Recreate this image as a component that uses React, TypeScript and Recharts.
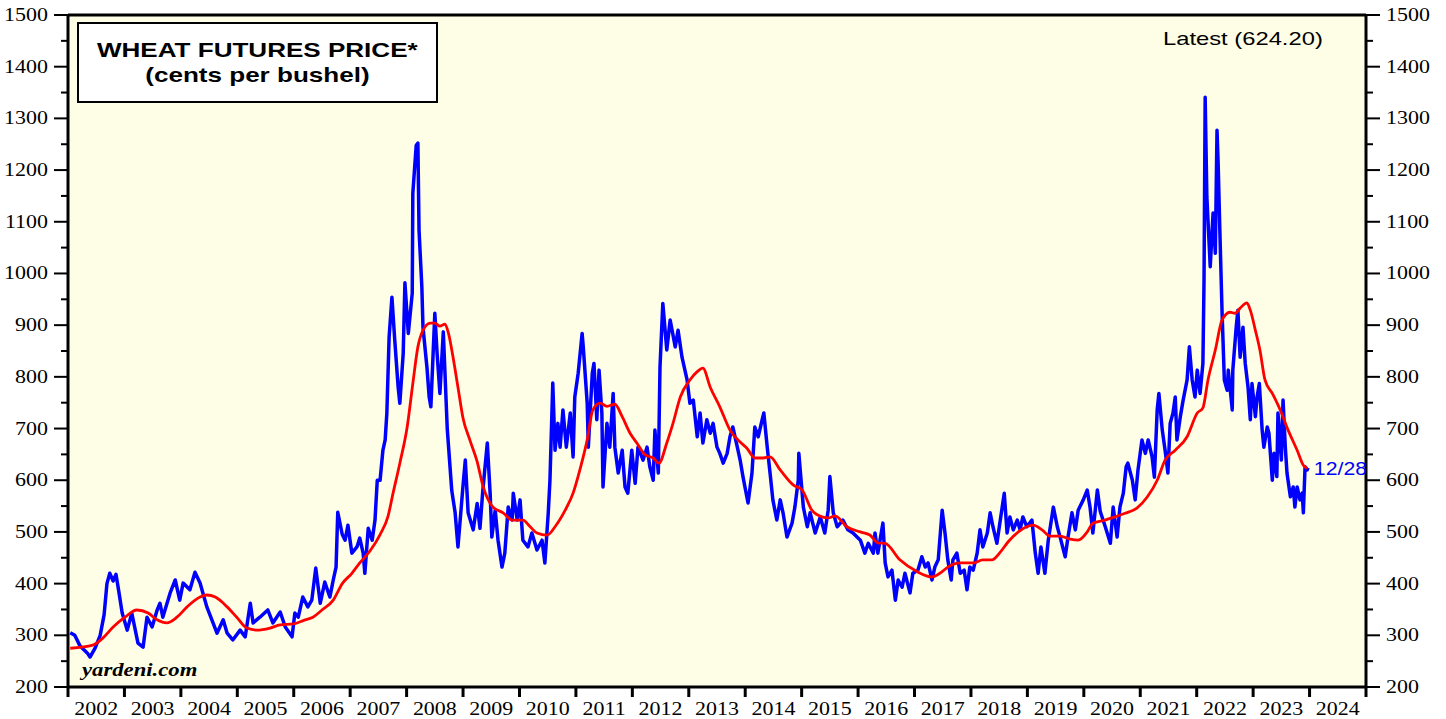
import React from "react";
import {
  ComposedChart,
  Line,
  XAxis,
  YAxis,
  CartesianGrid,
  ReferenceLine,
  ReferenceDot,
} from "recharts";

// weekly-ish futures price, cents per bushel [decimal year, value]
const PRICE: [number, number][] = [
  [2002.04, 305], [2002.12, 300], [2002.21, 280], [2002.34, 266], [2002.39, 258], [2002.48, 275],
  [2002.57, 300], [2002.64, 340], [2002.69, 400], [2002.74, 420], [2002.8, 405], [2002.85, 418],
  [2002.9, 385], [2002.96, 343], [2003.05, 310], [2003.13, 343], [2003.24, 285], [2003.33, 277],
  [2003.4, 335], [2003.49, 316], [2003.58, 349], [2003.63, 362], [2003.68, 335], [2003.81, 382],
  [2003.9, 407], [2003.98, 368], [2004.04, 401], [2004.16, 388], [2004.25, 422], [2004.34, 401],
  [2004.39, 382], [2004.46, 355], [2004.57, 324], [2004.64, 304], [2004.75, 330], [2004.82, 304],
  [2004.92, 291], [2005.05, 310], [2005.14, 297], [2005.23, 362], [2005.28, 324], [2005.4, 335],
  [2005.54, 349], [2005.63, 324], [2005.76, 345], [2005.85, 316], [2005.97, 297], [2006.02, 343],
  [2006.08, 335], [2006.16, 374], [2006.25, 355], [2006.32, 368], [2006.39, 430], [2006.47, 362],
  [2006.55, 403], [2006.64, 374], [2006.7, 407], [2006.75, 432], [2006.78, 538], [2006.86, 495],
  [2006.91, 484], [2006.96, 513], [2007.03, 459], [2007.12, 471], [2007.17, 488], [2007.23, 459],
  [2007.26, 420], [2007.32, 507], [2007.39, 484], [2007.44, 523], [2007.48, 600], [2007.53, 600],
  [2007.58, 658], [2007.62, 678], [2007.65, 730], [2007.69, 877], [2007.74, 954], [2007.79, 871],
  [2007.85, 780], [2007.88, 749], [2007.94, 846], [2007.97, 982], [2008.03, 884], [2008.1, 962],
  [2008.11, 1155], [2008.17, 1248], [2008.2, 1252], [2008.22, 1084], [2008.27, 974], [2008.29, 896],
  [2008.36, 819], [2008.4, 761], [2008.43, 742], [2008.47, 846], [2008.5, 923], [2008.54, 846],
  [2008.59, 768], [2008.65, 887], [2008.72, 700], [2008.8, 580], [2008.86, 537], [2008.91, 471],
  [2009.0, 590], [2009.04, 639], [2009.09, 537], [2009.18, 504], [2009.25, 555], [2009.3, 507],
  [2009.35, 580], [2009.43, 672], [2009.48, 575], [2009.51, 490], [2009.57, 542], [2009.62, 484],
  [2009.69, 432], [2009.74, 459], [2009.8, 548], [2009.87, 523], [2009.89, 575], [2009.96, 523],
  [2010.01, 562], [2010.06, 484], [2010.15, 471], [2010.22, 498], [2010.31, 465], [2010.4, 484],
  [2010.45, 440], [2010.51, 537], [2010.54, 600], [2010.59, 788], [2010.63, 658], [2010.68, 710],
  [2010.72, 664], [2010.77, 736], [2010.83, 664], [2010.9, 730], [2010.95, 645], [2010.98, 761],
  [2011.04, 807], [2011.11, 884], [2011.13, 858], [2011.2, 749], [2011.22, 664], [2011.29, 807],
  [2011.32, 826], [2011.37, 717], [2011.41, 813], [2011.46, 730], [2011.48, 587], [2011.55, 710],
  [2011.6, 664], [2011.66, 768], [2011.69, 664], [2011.75, 614], [2011.82, 658], [2011.87, 587],
  [2011.92, 575], [2011.99, 658], [2012.05, 594], [2012.1, 664], [2012.19, 639], [2012.26, 664],
  [2012.31, 626], [2012.37, 600], [2012.4, 697], [2012.46, 614], [2012.49, 819], [2012.54, 942],
  [2012.61, 852], [2012.67, 910], [2012.76, 858], [2012.81, 890], [2012.88, 838], [2012.97, 794],
  [2013.02, 749], [2013.08, 755], [2013.15, 684], [2013.2, 730], [2013.25, 672], [2013.32, 717],
  [2013.38, 691], [2013.43, 710], [2013.5, 664], [2013.55, 652], [2013.61, 633], [2013.68, 652],
  [2013.73, 684], [2013.78, 703], [2013.86, 664], [2013.91, 639], [2013.96, 607], [2014.05, 556],
  [2014.12, 614], [2014.17, 703], [2014.23, 684], [2014.3, 717], [2014.33, 730], [2014.39, 664],
  [2014.44, 614], [2014.49, 562], [2014.56, 523], [2014.62, 562], [2014.67, 537], [2014.74, 490],
  [2014.83, 517], [2014.88, 548], [2014.94, 600], [2014.95, 652], [2015.03, 548], [2015.1, 510],
  [2015.15, 537], [2015.24, 498], [2015.33, 529], [2015.41, 498], [2015.47, 542], [2015.5, 607],
  [2015.56, 537], [2015.63, 510], [2015.73, 523], [2015.82, 504], [2015.91, 498], [2016.04, 484],
  [2016.12, 459], [2016.18, 478], [2016.27, 459], [2016.3, 498], [2016.35, 459], [2016.44, 517],
  [2016.48, 440], [2016.53, 413], [2016.6, 426], [2016.66, 368], [2016.71, 407], [2016.78, 393],
  [2016.83, 420], [2016.92, 382], [2016.97, 420], [2017.06, 426], [2017.13, 452], [2017.19, 432],
  [2017.24, 440], [2017.31, 407], [2017.36, 432], [2017.42, 446], [2017.49, 542], [2017.54, 498],
  [2017.59, 446], [2017.65, 407], [2017.68, 446], [2017.75, 459], [2017.81, 420], [2017.88, 426],
  [2017.93, 388], [2017.98, 432], [2018.04, 426], [2018.11, 459], [2018.16, 504], [2018.21, 471],
  [2018.29, 498], [2018.34, 537], [2018.39, 510], [2018.46, 478], [2018.52, 523], [2018.59, 575],
  [2018.64, 498], [2018.69, 529], [2018.75, 504], [2018.82, 523], [2018.87, 504], [2018.92, 529],
  [2018.99, 510], [2019.08, 523], [2019.14, 459], [2019.19, 420], [2019.24, 471], [2019.31, 420],
  [2019.37, 484], [2019.46, 548], [2019.53, 510], [2019.58, 490], [2019.67, 452], [2019.72, 490],
  [2019.79, 537], [2019.85, 504], [2019.9, 542], [2019.99, 562], [2020.06, 581], [2020.11, 548],
  [2020.16, 498], [2020.24, 581], [2020.29, 540], [2020.38, 510], [2020.47, 478], [2020.52, 548],
  [2020.59, 490], [2020.64, 548], [2020.7, 575], [2020.75, 626], [2020.78, 633], [2020.86, 600],
  [2020.91, 562], [2020.96, 620], [2021.03, 678], [2021.09, 652], [2021.14, 678], [2021.21, 645],
  [2021.25, 606], [2021.3, 736], [2021.33, 768], [2021.39, 697], [2021.44, 658], [2021.49, 614],
  [2021.53, 710], [2021.58, 730], [2021.62, 761], [2021.65, 678], [2021.71, 723], [2021.76, 755],
  [2021.83, 794], [2021.87, 858], [2021.92, 794], [2021.97, 761], [2022.01, 813], [2022.06, 768],
  [2022.11, 826], [2022.13, 987], [2022.15, 1341], [2022.18, 1148], [2022.24, 1013], [2022.29, 1117],
  [2022.33, 1039], [2022.36, 1277], [2022.38, 1213], [2022.41, 1084], [2022.45, 923], [2022.49, 794],
  [2022.54, 774], [2022.56, 813], [2022.63, 736], [2022.64, 813], [2022.7, 896], [2022.73, 929],
  [2022.77, 838], [2022.82, 896], [2022.86, 826], [2022.91, 780], [2022.95, 717], [2022.98, 787],
  [2023.04, 723], [2023.07, 761], [2023.11, 787], [2023.16, 697], [2023.19, 664], [2023.25, 703],
  [2023.28, 691], [2023.34, 600], [2023.37, 652], [2023.42, 607], [2023.44, 730], [2023.5, 639],
  [2023.53, 755], [2023.57, 664], [2023.6, 614], [2023.66, 568], [2023.71, 587], [2023.74, 548],
  [2023.78, 587], [2023.83, 562], [2023.87, 575], [2023.89, 537], [2023.92, 626], [2023.96, 620],
  [2023.97, 624.2],
];

// 52-week moving average (red)
const AVERAGE: [number, number][] = [
  [2002.04, 275], [2002.44, 281], [2002.62, 295], [2002.8, 316], [2003.01, 335], [2003.22, 349],
  [2003.42, 343], [2003.58, 330], [2003.75, 324], [2003.93, 335], [2004.11, 355], [2004.34, 374],
  [2004.46, 378], [2004.61, 374], [2004.82, 355], [2004.99, 335], [2005.17, 314], [2005.35, 310],
  [2005.58, 314], [2005.76, 320], [2005.99, 322], [2006.2, 330], [2006.34, 335], [2006.5, 349],
  [2006.7, 368], [2006.86, 400], [2007.03, 420], [2007.17, 440], [2007.35, 463], [2007.53, 495],
  [2007.67, 530], [2007.76, 575], [2007.88, 633], [2008.01, 703], [2008.11, 787], [2008.2, 858],
  [2008.29, 890], [2008.42, 904], [2008.5, 904], [2008.59, 898], [2008.68, 902], [2008.74, 885],
  [2008.82, 840], [2008.91, 780], [2009.0, 720], [2009.12, 678], [2009.25, 636], [2009.35, 590],
  [2009.53, 548], [2009.71, 537], [2009.87, 523], [2010.06, 523], [2010.19, 510], [2010.31, 498],
  [2010.49, 494], [2010.63, 510], [2010.81, 542], [2010.95, 575], [2011.07, 620], [2011.2, 678],
  [2011.3, 736], [2011.43, 749], [2011.55, 743], [2011.69, 747], [2011.82, 723], [2011.96, 691],
  [2012.08, 672], [2012.23, 649], [2012.37, 643], [2012.47, 633], [2012.61, 672], [2012.72, 710],
  [2012.85, 761], [2013.02, 794], [2013.15, 810], [2013.25, 817], [2013.38, 780], [2013.55, 742],
  [2013.73, 697], [2013.91, 674], [2014.03, 662], [2014.17, 643], [2014.32, 643], [2014.44, 645],
  [2014.62, 620], [2014.85, 591], [2015.01, 581], [2015.18, 542], [2015.36, 529], [2015.47, 527],
  [2015.59, 531], [2015.8, 510], [2016.04, 500], [2016.21, 494], [2016.35, 479], [2016.48, 478],
  [2016.74, 446], [2017.05, 423], [2017.31, 413], [2017.45, 420], [2017.59, 432], [2017.81, 440],
  [2018.04, 440], [2018.21, 446], [2018.37, 446], [2018.52, 461], [2018.66, 481], [2018.84, 500],
  [2019.1, 513], [2019.26, 504], [2019.4, 492], [2019.58, 492], [2019.76, 486], [2019.9, 484],
  [2020.06, 500], [2020.16, 517], [2020.38, 523], [2020.55, 529], [2020.73, 536], [2020.94, 546],
  [2021.12, 567], [2021.3, 600], [2021.44, 639], [2021.62, 658], [2021.83, 684], [2022.01, 730],
  [2022.11, 740], [2022.2, 794], [2022.33, 852], [2022.45, 910], [2022.59, 925], [2022.68, 923],
  [2022.77, 933], [2022.89, 943], [2022.95, 929], [2023.04, 890], [2023.12, 852], [2023.21, 794],
  [2023.34, 768], [2023.48, 736], [2023.62, 697], [2023.78, 658], [2023.89, 629], [2023.96, 623],
];

const YEARS = [
  2002, 2003, 2004, 2005, 2006, 2007, 2008, 2009, 2010, 2011, 2012, 2013,
  2014, 2015, 2016, 2017, 2018, 2019, 2020, 2021, 2022, 2023, 2024, 2025,
];
const Y_TICKS = [
  200, 250, 300, 350, 400, 450, 500, 550, 600, 650, 700, 750, 800, 850, 900, 950,
  1000, 1050, 1100, 1150, 1200, 1250, 1300, 1350, 1400, 1450, 1500,
];
const LAST_DATE = "12/28";
const LATEST = 624.2;

const W = 1446;
const H = 719;
const PLOT_W = 1298;
const YEAR_PX = PLOT_W / (YEARS.length - 1);
const SERIF = "'Liberation Serif', 'Times New Roman', serif";
const SANS = "'Liberation Sans', Arial, sans-serif";
const STRETCH = 1.22;

const priceData = PRICE.map(([t, v]) => ({ t, v }));
const avgData = AVERAGE.map(([t, v]) => ({ t, v }));

function LeftTick({ x, y, payload }: any) {
  const major = payload.value % 100 === 0;
  return (
    <g>
      <line x1={x - (major ? 14 : 7)} x2={x} y1={y} y2={y} stroke="#000" strokeWidth={2} />
      {major && (
        <text
          transform={`translate(${x - 20},${y + 6}) scale(${STRETCH},1)`}
          textAnchor="end"
          fontFamily={SERIF}
          fontSize={18}
          fill="#000"
        >
          {payload.value}
        </text>
      )}
    </g>
  );
}

function RightTick({ x, y, payload }: any) {
  const major = payload.value % 100 === 0;
  return (
    <g>
      <line x1={x} x2={x + (major ? 14 : 7)} y1={y} y2={y} stroke="#000" strokeWidth={2} />
      {major && (
        <text
          transform={`translate(${x + 20},${y + 6}) scale(${STRETCH},1)`}
          textAnchor="start"
          fontFamily={SERIF}
          fontSize={18}
          fill="#000"
        >
          {payload.value}
        </text>
      )}
    </g>
  );
}

function YearTick({ x, y, payload }: any) {
  const last = payload.value >= YEARS[YEARS.length - 1];
  return (
    <g>
      <line x1={x} x2={x} y1={y} y2={y + 10} stroke="#000" strokeWidth={3} />
      {!last && (
        <text
          transform={`translate(${x + YEAR_PX / 2},${y + 28}) scale(${STRETCH},1)`}
          textAnchor="middle"
          fontFamily={SERIF}
          fontSize={18}
          fill="#000"
        >
          {payload.value}
        </text>
      )}
    </g>
  );
}

function DateLabel({ viewBox }: any) {
  if (!viewBox) return null;
  return (
    <text
      transform={`translate(${viewBox.x + 6},${viewBox.y + 7}) scale(1.18,1)`}
      fontFamily={SANS}
      fontSize={18}
      fill="#0000ff"
    >
      {LAST_DATE}
    </text>
  );
}

export default function App() {
  return (
    <div style={{ position: "absolute", left: 0, top: 0, width: W, height: H, background: "#fff" }}>
      <ComposedChart
        width={W}
        height={H}
        margin={{ top: 15, right: 0, bottom: 0, left: 8 }}
      >
        <CartesianGrid horizontal={false} vertical={false} fill="#fefee6" />
        <XAxis
          dataKey="t"
          type="number"
          domain={[YEARS[0], YEARS[YEARS.length - 1]]}
          ticks={YEARS}
          interval={0}
          height={32}
          tickLine={false}
          tickSize={0}
          tickMargin={0}
          tick={<YearTick />}
          axisLine={{ stroke: "#000", strokeWidth: 3 }}
          allowDataOverflow
        />
        <YAxis
          yAxisId="left"
          orientation="left"
          domain={[200, 1500]}
          ticks={Y_TICKS}
          interval={0}
          width={60}
          tickLine={false}
          tickSize={0}
          tickMargin={0}
          tick={<LeftTick />}
          axisLine={{ stroke: "#000", strokeWidth: 3 }}
          allowDataOverflow
        />
        <YAxis
          yAxisId="right"
          orientation="right"
          domain={[200, 1500]}
          ticks={Y_TICKS}
          interval={0}
          width={80}
          tickLine={false}
          tickSize={0}
          tickMargin={0}
          tick={<RightTick />}
          axisLine={{ stroke: "#000", strokeWidth: 3 }}
          allowDataOverflow
        />
        <ReferenceLine yAxisId="left" y={1500} stroke="#000" strokeWidth={3} />
        <Line
          yAxisId="left"
          data={priceData}
          dataKey="v"
          type="linear"
          stroke="#0000ff"
          strokeWidth={3.5}
          strokeLinejoin="round"
          dot={false}
          isAnimationActive={false}
        />
        <Line
          yAxisId="left"
          data={avgData}
          dataKey="v"
          type="monotone"
          stroke="#ff0000"
          strokeWidth={2.8}
          dot={false}
          isAnimationActive={false}
        />
        <ReferenceDot
          yAxisId="left"
          x={PRICE[PRICE.length - 1][0]}
          y={LATEST}
          r={0}
          stroke="none"
          label={<DateLabel />}
        />
      </ComposedChart>

      <div
        style={{
          position: "absolute",
          left: 77,
          top: 22,
          width: 361,
          height: 81,
          boxSizing: "border-box",
          border: "2px solid #000",
          background: "#fff",
        }}
      />
      {["WHEAT FUTURES PRICE*", "(cents per bushel)"].map((line, i) => (
        <div
          key={line}
          style={{
            position: "absolute",
            left: 77,
            width: 361,
            top: i === 0 ? 39 : 64,
            textAlign: "center",
            fontFamily: SANS,
            fontWeight: "bold",
            fontSize: 21,
            lineHeight: "21px",
            whiteSpace: "nowrap",
          }}
        >
          <span style={{ display: "inline-block", transform: "scaleX(1.24)" }}>{line}</span>
        </div>
      ))}
      <div
        style={{
          position: "absolute",
          left: 1163,
          top: 29,
          fontFamily: SANS,
          fontSize: 19,
          lineHeight: "19px",
          whiteSpace: "nowrap",
          transform: "scaleX(1.25)",
          transformOrigin: "left top",
        }}
      >
        Latest ({LATEST.toFixed(2)})
      </div>
      <div
        style={{
          position: "absolute",
          left: 82,
          top: 661,
          fontFamily: SERIF,
          fontWeight: "bold",
          fontStyle: "italic",
          fontSize: 18,
          lineHeight: "18px",
          whiteSpace: "nowrap",
          transform: "scaleX(1.26)",
          transformOrigin: "left top",
        }}
      >
        yardeni.com
      </div>
    </div>
  );
}
